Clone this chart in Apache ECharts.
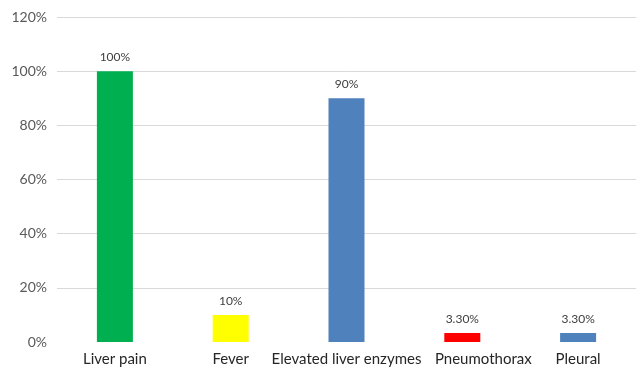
<!DOCTYPE html>
<html>
<head>
<meta charset="utf-8">
<script src="https://cdn.jsdelivr.net/npm/echarts@6/dist/echarts.min.js"></script>
<style>
  html, body { margin: 0; padding: 0; background: #fff; }
  #chart { width: 644px; height: 378px; }
</style>
</head>
<body>
<div id="chart"></div>
<script>
// Symptom frequencies (percent of patients)
const categories = ['Liver pain', 'Fever', 'Elevated liver enzymes', 'Pneumothorax', 'Pleural'];
const values = [100, 10, 90, 3.3, 3.3];
const valueLabels = ['100%', '10%', '90%', '3.30%', '3.30%'];
const barColors = ['#00B050', '#FFFF00', '#4F81BD', '#FF0000', '#4F81BD'];
const yTicks = [0, 20, 40, 60, 80, 100, 120];

const FONT = 'Lato, Noto Sans, sans-serif';

const chart = echarts.init(document.getElementById('chart'));
chart.setOption({
  animation: false,
  grid: { left: 57, right: 8, top: 17, bottom: 36 },
  xAxis: {
    type: 'category',
    data: categories,
    axisLine: { show: false },
    axisTick: { show: false },
    axisLabel: {
      color: '#262626',
      fontFamily: FONT,
      fontSize: 15,
      margin: 10,
      interval: 0,
      // long neighbours: nudge "Pneumothorax" right so it clears the longer label
      formatter: (v, i) => (i === 3 ? '{shift|' + v + '}' : v),
      rich: {
        shift: {
          color: '#262626',
          fontFamily: FONT,
          fontSize: 15,
          padding: [0, 0, 0, 42]
        }
      }
    }
  },
  yAxis: {
    type: 'value',
    min: yTicks[0],
    max: yTicks[yTicks.length - 1],
    interval: 20,
    axisLine: { show: false },
    axisTick: { show: false },
    axisLabel: {
      color: '#595959',
      fontFamily: FONT,
      fontSize: 14,
      margin: 10,
      formatter: v => v + '%'
    },
    splitLine: {
      lineStyle: { color: '#D9D9D9', width: 1 },
      showMinLine: false
    }
  },
  series: [{
    type: 'bar',
    barWidth: 36,
    data: values.map((v, i) => ({
      value: v,
      itemStyle: { color: barColors[i] },
      label: { formatter: valueLabels[i] }
    })),
    label: {
      show: true,
      position: 'top',
      distance: 8,
      color: '#404040',
      fontFamily: FONT,
      fontSize: 12
    }
  }]
});
</script>
</body>
</html>
